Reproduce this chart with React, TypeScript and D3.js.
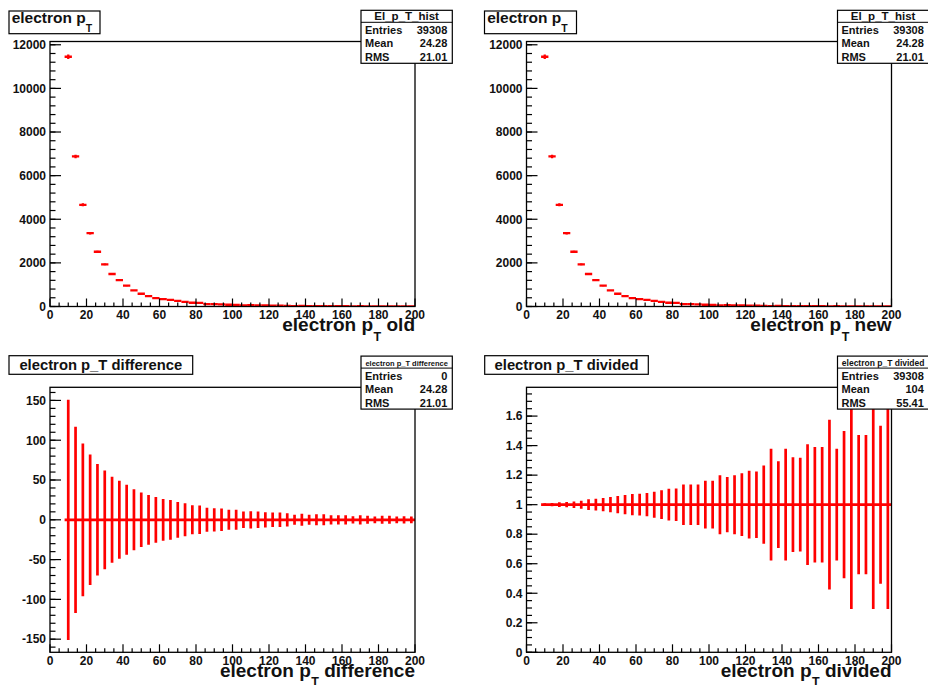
import React from 'react';
import * as d3 from 'd3';

// ---- data ----
const binCenters = d3.range(10, 200, 4); // 48 bins of width 4 GeV, from 8 to 200
const binWidth = 4;
const counts = [
  11450, 6880, 4660, 3360, 2510, 1930, 1490, 1210, 960, 735, 585, 475, 385, 340, 305, 255,
  210, 172, 165, 110, 106, 102, 80, 78, 52, 57, 52, 45, 40, 41, 30, 15,
  24, 15, 20, 20, 13, 14, 14, 6, 14, 8, 4, 9, 9, 4, 7, 4,
];
const diffErr = [
  151, 117, 96, 82, 70, 62, 54, 49, 44, 38.3, 34.2, 31.2, 28.7, 26.2, 25, 22.5,
  20.8, 18.3, 17.9, 15, 14.6, 14.2, 12.5, 12.5, 10.4, 10.8, 10.4, 9.6, 9.2, 9.2, 8.3, 6.2,
  7.5, 6.2, 7, 6.9, 5.8, 5.8, 5.8, 4.6, 5.8, 5, 4.2, 5, 5, 4.2, 4.6, 4.2,
];
const ratioErr = [
  0.009, 0.011, 0.016, 0.018, 0.022, 0.027, 0.036, 0.04, 0.045, 0.052, 0.058, 0.065, 0.072, 0.074, 0.079, 0.088,
  0.097, 0.108, 0.11, 0.137, 0.137, 0.137, 0.162, 0.162, 0.2, 0.187, 0.2, 0.213, 0.229, 0.225, 0.265, 0.378,
  0.294, 0.378, 0.321, 0.317, 0.409, 0.391, 0.391, 0.575, 0.378, 0.499, 0.706, 0.472, 0.472, 0.706, 0.535, 0.706,
];

const xMajorTicks = d3.range(0, 201, 20);
const xMinorTicks = d3.range(0, 201, 5);

const statsOld = { name: 'El_p_T_hist', entries: '39308', mean: '24.28', rms: '21.01' };
const statsNew = { name: 'El_p_T_hist', entries: '39308', mean: '24.28', rms: '21.01' };
const statsDiff = { name: 'electron p_T difference', entries: '0', mean: '24.28', rms: '21.01' };
const statsDiv = { name: 'electron p_T divided', entries: '39308', mean: '104', rms: '55.41' };

const FONT = '"Liberation Sans", Arial, Helvetica, sans-serif';
const RED = '#ff0000';
const TXT = '#111';
const W = 365;
const H = 265;

type Stats = { name: string; entries: string; mean: string; rms: string };

function StatsBox({ x, y, s, titleSize }: { x: number; y: number; s: Stats; titleSize: number }) {
  const w = 91.3;
  const h = 53;
  return (
    <g fontFamily={FONT} fontWeight="bold" fill={TXT}>
      <rect x={x} y={y} width={w} height={h} fill="#fff" stroke="#000" strokeWidth={1.2} />
      <line x1={x} x2={x + w} y1={y + 12} y2={y + 12} stroke="#000" strokeWidth={1} />
      <text x={x + w / 2} y={y + 9.6} fontSize={titleSize} textAnchor="middle">{s.name}</text>
      {[
        ['Entries', s.entries],
        ['Mean', s.mean],
        ['RMS', s.rms],
      ].map(([k, v], i) => (
        <g key={k}>
          <text x={x + 4} y={y + 23.4 + i * 13.7} fontSize={11}>{k}</text>
          <text x={x + w - 5} y={y + 23.4 + i * 13.7} fontSize={11} textAnchor="end">{v}</text>
        </g>
      ))}
    </g>
  );
}

type PanelProps = {
  L: number;
  T: number;
  yDomain: [number, number];
  yMajor: number[];
  yMinor: number[];
  yFmt: (v: number) => string;
  xTitleSuffix: string;
  stats: Stats;
  statsTitleSize: number;
  clipId: string;
  render: (x: d3.ScaleLinear<number, number>, y: d3.ScaleLinear<number, number>) => React.ReactNode;
};

function Panel(p: PanelProps) {
  const x = d3.scaleLinear().domain([0, 200]).range([p.L, p.L + W]);
  const y = d3.scaleLinear().domain(p.yDomain).range([p.T + H, p.T]);
  const B = p.T + H;
  return (
    <g>
      <defs>
        <clipPath id={p.clipId}>
          <rect x={p.L} y={p.T} width={W} height={H} />
        </clipPath>
      </defs>
      <g clipPath={`url(#${p.clipId})`}>{p.render(x, y)}</g>
      <rect x={p.L} y={p.T} width={W} height={H} fill="none" stroke="#000" strokeWidth={1.3} />
      {/* x ticks */}
      {xMinorTicks.map((t) => (
        <line key={'xm' + t} x1={x(t)} x2={x(t)} y1={B} y2={B - (t % 20 === 0 ? 8 : 4)} stroke="#000" strokeWidth={1.2} />
      ))}
      {/* y ticks */}
      {p.yMinor.map((t, i) => (
        <line key={'ym' + i} x1={p.L} x2={p.L + 5.5} y1={y(t)} y2={y(t)} stroke="#000" strokeWidth={1.2} />
      ))}
      {p.yMajor.map((t, i) => (
        <line key={'yM' + i} x1={p.L} x2={p.L + 11} y1={y(t)} y2={y(t)} stroke="#000" strokeWidth={1.2} />
      ))}
      <g fontFamily={FONT} fontWeight="bold" fontSize={12} fill={TXT}>
        {xMajorTicks.map((t) => (
          <text key={'xl' + t} x={x(t)} y={B + 12.3} textAnchor="middle">{t}</text>
        ))}
        {p.yMajor.map((t, i) => (
          <text key={'yl' + i} x={p.L - 4} y={y(t) + 4.3} textAnchor="end">{p.yFmt(t)}</text>
        ))}
      </g>
      <text x={p.L + W} y={B + 24.5} textAnchor="end" fontFamily={FONT} fontWeight="bold" fontSize={19} fill={TXT}>
        electron p<tspan fontSize={12.5} dy={9.5} dx={0.5}>T</tspan>
        <tspan dy={-9.5}>{' ' + p.xTitleSuffix}</tspan>
      </text>
      <StatsBox x={p.L + 311} y={p.T - 31.2} s={p.stats} titleSize={p.statsTitleSize} />
    </g>
  );
}

function countMarks(x: d3.ScaleLinear<number, number>, y: d3.ScaleLinear<number, number>) {
  return binCenters.map((c, i) => {
    const n = counts[i];
    const e = Math.sqrt(n);
    return (
      <g key={i} stroke={RED} strokeWidth={2.3}>
        <line x1={x(c - binWidth / 2)} x2={x(c + binWidth / 2)} y1={y(n)} y2={y(n)} />
        <line x1={x(c)} x2={x(c)} y1={y(n - e)} y2={y(n + e)} />
      </g>
    );
  });
}

export default function App() {
  const countMajor = d3.range(0, 12001, 2000);
  const countMinor = d3.range(0, 12001, 400);
  const diffMajor = d3.range(-150, 151, 50);
  const diffMinor = d3.range(-160, 161, 10);
  const divMajor = d3.range(0, 9).map((k) => +(k * 0.2).toFixed(2));
  const divMinor = d3.range(0, 36).map((k) => +(k * 0.05).toFixed(2));

  return (
    <svg width={928} height={685} style={{ position: 'absolute', left: 0, top: 0, background: '#fff' }}>
      <rect x={0} y={0} width={928} height={685} fill="#fff" />

      {/* top-left */}
      <Panel
        L={50} T={41.5} yDomain={[0, 12150]} yMajor={countMajor} yMinor={countMinor}
        yFmt={(v) => String(v)} xTitleSuffix="old" stats={statsOld} statsTitleSize={11.5} clipId="c1"
        render={countMarks}
      />
      {/* top-right */}
      <Panel
        L={526.5} T={41.5} yDomain={[0, 12150]} yMajor={countMajor} yMinor={countMinor}
        yFmt={(v) => String(v)} xTitleSuffix="new" stats={statsNew} statsTitleSize={11.5} clipId="c2"
        render={countMarks}
      />
      {/* bottom-left */}
      <Panel
        L={50} T={387.3} yDomain={[-166.5, 166.5]} yMajor={diffMajor} yMinor={diffMinor}
        yFmt={(v) => String(v)} xTitleSuffix="difference" stats={statsDiff} statsTitleSize={7.5} clipId="c3"
        render={(x, y) => (
          <g stroke={RED} strokeWidth={2.7}>
            <line x1={x(8)} x2={x(200)} y1={y(0)} y2={y(0)} />
            {binCenters.map((c, i) => (
              <line key={i} x1={x(c)} x2={x(c)} y1={y(-diffErr[i])} y2={y(diffErr[i])} />
            ))}
          </g>
        )}
      />
      {/* bottom-right */}
      <Panel
        L={526.5} T={387.3} yDomain={[0, 1.795]} yMajor={divMajor} yMinor={divMinor}
        yFmt={(v) => String(v)} xTitleSuffix="divided" stats={statsDiv} statsTitleSize={8.5} clipId="c4"
        render={(x, y) => (
          <g stroke={RED} strokeWidth={2.7}>
            <line x1={x(8)} x2={x(200)} y1={y(1)} y2={y(1)} />
            {binCenters.map((c, i) => (
              <line key={i} x1={x(c)} x2={x(c)} y1={y(1 - ratioErr[i])} y2={y(1 + ratioErr[i])} />
            ))}
          </g>
        )}
      />

      {/* pad titles */}
      <g fontFamily={FONT} fontWeight="bold" fill={TXT}>
        <rect x={9} y={11} width={91} height={22.7} fill="#fff" stroke="#000" strokeWidth={1.2} />
        <text x={11.7} y={23.3} fontSize={15.5}>
          electron p<tspan fontSize={10.5} dy={9}>T</tspan>
        </text>
        <rect x={484.5} y={11} width={92} height={22.7} fill="#fff" stroke="#000" strokeWidth={1.2} />
        <text x={487.2} y={23.3} fontSize={15.5}>
          electron p<tspan fontSize={10.5} dy={9}>T</tspan>
        </text>
        <rect x={9} y={355.7} width={183.7} height={18.6} fill="#fff" stroke="#000" strokeWidth={1.2} />
        <text x={100.8} y={370} fontSize={14.8} textAnchor="middle">electron p_T difference</text>
        <rect x={484.7} y={355.7} width={163.6} height={18.6} fill="#fff" stroke="#000" strokeWidth={1.2} />
        <text x={566.5} y={370} fontSize={14.8} textAnchor="middle">electron p_T divided</text>
      </g>
    </svg>
  );
}
